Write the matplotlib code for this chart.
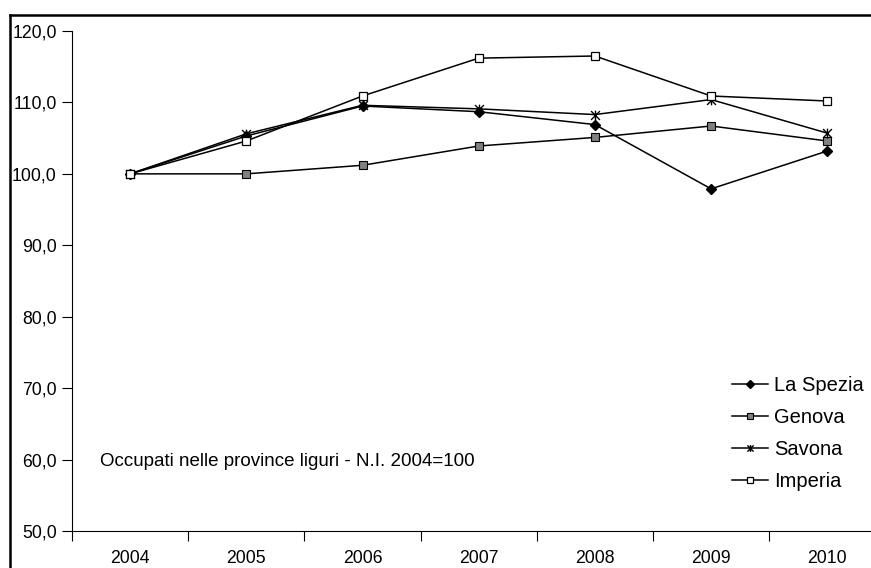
import matplotlib
matplotlib.use("Agg")
import matplotlib.pyplot as plt
from matplotlib.lines import Line2D
from matplotlib.path import Path
import matplotlib.ticker as ticker

plt.rcParams["font.family"] = ["Liberation Sans", "DejaVu Sans"]

years = ["2004", "2005", "2006", "2007", "2008", "2009", "2010"]
la_spezia = [100.0, 105.3, 109.5, 108.7, 106.9, 97.9, 103.2]
genova = [100.0, 100.0, 101.2, 103.9, 105.1, 106.7, 104.6]
savona = [100.0, 105.6, 109.6, 109.1, 108.3, 110.4, 105.7]
imperia = [100.0, 104.6, 110.9, 116.2, 116.5, 110.9, 110.2]

# Excel-style asterisk marker: an X crossed by a vertical stroke
STAR = Path(
    [(-1, -1), (1, 1), (-1, 1), (1, -1), (0, -1.1), (0, 1.1)],
    [Path.MOVETO, Path.LINETO, Path.MOVETO, Path.LINETO, Path.MOVETO, Path.LINETO],
)

series = [
    ("La Spezia", la_spezia, dict(marker="D", mfc="black", mec="black", ms=5.5)),
    ("Genova", genova, dict(marker="s", mfc="#808080", mec="black", ms=6, mew=0.8)),
    ("Savona", savona, dict(marker=STAR, mfc="none", mec="black", ms=7, mew=1.0)),
    ("Imperia", imperia, dict(marker="s", mfc="white", mec="black", ms=6, mew=0.9)),
]

fig = plt.figure(figsize=(8.71, 5.68), dpi=100)
ax = fig.add_axes([72 / 871, 37 / 568, 813.4 / 871, 500 / 568])

x = list(range(len(years)))
handles = []
for name, vals, style in series:
    ax.plot(x, vals, color="black", linewidth=1.1, **style)
    # legend keys use smaller markers
    small = dict(style, ms=style["ms"] * 0.7)
    handles.append(Line2D([], [], color="black", linewidth=1.1, label=name, **small))

ax.set_xlim(-0.5, len(years) - 0.5)
ax.set_ylim(50, 120)
ax.yaxis.set_major_locator(ticker.MultipleLocator(10))
ax.yaxis.set_major_formatter(ticker.FuncFormatter(lambda v, _: f"{v:.1f}".replace(".", ",")))

# category labels centred, tick marks on the boundaries
ax.set_xticks([i - 0.5 for i in range(len(years) + 1)])
ax.set_xticklabels([])
ax.set_xticks(x, minor=True)
ax.set_xticklabels(years, minor=True)
ax.tick_params(axis="x", which="minor", length=0, pad=14, labelsize=12.7)
ax.tick_params(axis="x", which="major", length=7, width=0.8, direction="out")
ax.tick_params(axis="y", length=7, width=0.8, direction="out", pad=4, labelsize=12.7)

for side in ("top", "right"):
    ax.spines[side].set_visible(False)
for side in ("left", "bottom"):
    ax.spines[side].set_linewidth(0.8)

ax.text(100 / 871, 106 / 568, "Occupati nelle province liguri - N.I. 2004=100",
        transform=fig.transFigure, fontsize=13.5, va="center", ha="left")

ax.legend(handles=handles, loc="upper left", bbox_to_anchor=(732 / 871, 1 - 376 / 568),
          bbox_transform=fig.transFigure, frameon=False, fontsize=14.5,
          handlelength=1.8, handletextpad=0.3, labelspacing=0.65,
          borderaxespad=0, borderpad=0)

# outer chart frame, visible on the left and top
fig.add_artist(Line2D([10 / 871, 10 / 871], [0, 1 - 15 / 568], color="black",
                      linewidth=1.8, transform=fig.transFigure))
fig.add_artist(Line2D([10 / 871, 1], [1 - 15 / 568, 1 - 15 / 568], color="black",
                      linewidth=1.8, transform=fig.transFigure))

fig.savefig("out.png", dpi=100)
